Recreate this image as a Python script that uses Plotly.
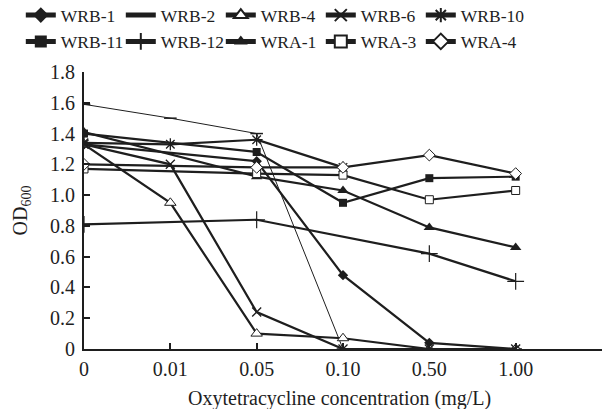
import plotly.graph_objects as go

categories = ["0", "0.01", "0.05", "0.10", "0.50", "1.00"]
y_ticks = [0, 0.2, 0.4, 0.6, 0.8, 1.0, 1.2, 1.4, 1.6, 1.8]
y_tick_labels = ["0", "0.2", "0.4", "0.6", "0.8", "1.0", "1.2", "1.4", "1.6", "1.8"]
x_title = "Oxytetracycline concentration (mg/L)"
y_title = "OD<sub>600</sub>"

wrb_1 = [1.33, None, 1.22, 0.48, 0.04, 0.00]
wrb_2 = [1.59, 1.50, 1.40, 0.00, 0.00, 0.00]
wrb_4 = [1.33, 0.95, 0.10, 0.07, 0.00, 0.00]
wrb_6 = [1.33, 1.20, 0.24, 0.00, 0.00, 0.00]
wrb_10 = [1.34, 1.33, 1.36, 1.18, None, None]
wrb_11 = [1.40, None, 1.28, 0.95, 1.11, 1.12]
wrb_12 = [0.81, None, 0.84, None, 0.62, 0.44]
wra_1 = [1.41, None, 1.12, 1.03, 0.79, 0.66]
wra_3 = [1.17, None, 1.14, 1.13, 0.97, 1.03]
wra_4 = [1.20, None, 1.18, 1.18, 1.26, 1.14]

INK = "#1e1e1e"
series = [
    ("WRB-1", wrb_1, dict(symbol="diamond", size=8, color=INK), 2.2, "legend", None),
    ("WRB-2", wrb_2, dict(symbol="line-ew", size=9, color=INK, line=dict(color=INK, width=1.5)), 1.0, "legend", None),
    ("WRB-4", wrb_4, dict(symbol="triangle-up", size=10, color="white", line=dict(color=INK, width=1)), 2.2, "legend", None),
    ("WRB-6", wrb_6, dict(symbol="x-thin", size=9, color=INK, line=dict(color=INK, width=1.3)), 2.2, "legend", None),
    ("WRB-10", wrb_10, dict(symbol="asterisk", size=10, color=INK, line=dict(color=INK, width=1.3)), 2.2, "legend", 75),
    ("WRB-11", wrb_11, dict(symbol="square", size=8, color=INK), 2.2, "legend2", None),
    ("WRB-12", wrb_12, dict(symbol="cross-thin", size=12, color=INK, line=dict(color=INK, width=1.2)), 2.2, "legend2", None),
    ("WRA-1", wra_1, dict(symbol="triangle-up", size=10, color=INK), 2.2, "legend2", None),
    ("WRA-3", wra_3, dict(symbol="square", size=8, color="white", line=dict(color=INK, width=1)), 2.2, "legend2", None),
    ("WRA-4", wra_4, dict(symbol="diamond", size=9, color="white", line=dict(color=INK, width=1)), 2.2, "legend2", 75),
]

xpos = list(range(len(categories)))
fig = go.Figure()
for name, vals, marker, lw, lg, lwid in series:
    tr = go.Scatter(
        x=xpos, y=vals, name=name, mode="lines+markers",
        line=dict(color=INK, width=lw), marker=marker, connectgaps=True,
        legend=lg,
    )
    if lwid:
        tr.legendwidth = lwid
    fig.add_trace(tr)

FONT = "Liberation Serif, Times New Roman, serif"
FS = 20
legend_common = dict(
    orientation="h", xanchor="left", yanchor="top",
    xref="paper", yref="paper",
    entrywidth=55, entrywidthmode="pixels",
    font=dict(family=FONT, size=17.5, color=INK),
    itemsizing="constant", tracegroupgap=0, bgcolor="rgba(0,0,0,0)",
)
fig.update_layout(
    width=604, height=409,
    margin=dict(l=84, r=2, t=72, b=60, autoexpand=False),
    paper_bgcolor="white", plot_bgcolor="white",
    font=dict(family=FONT, size=FS, color=INK),
    showlegend=True,
    legend=dict(x=-0.122, y=1.27, **legend_common),
    legend2=dict(x=-0.122, y=1.175, **legend_common),
    xaxis=dict(
        range=[0, 6], tickvals=xpos, ticktext=categories,
        showline=True, linecolor=INK, linewidth=2,
        ticks="inside", ticklen=6, tickwidth=1.5, tickcolor=INK,
        ticklabelstandoff=1,
        showgrid=False, zeroline=False, automargin=False,
        tickfont=dict(family=FONT, size=FS, color=INK),
    ),
    yaxis=dict(
        range=[0, 1.8], tickvals=y_ticks, ticktext=y_tick_labels,
        showline=True, linecolor=INK, linewidth=2,
        ticks="inside", ticklen=6, tickwidth=1.5, tickcolor=INK,
        ticklabelstandoff=3,
        showgrid=False, zeroline=False, automargin=False,
        title=dict(text=y_title, standoff=17, font=dict(family=FONT, size=FS, color=INK)),
        tickfont=dict(family=FONT, size=FS, color=INK),
    ),
)
fig.add_annotation(
    text=x_title, xref="paper", yref="paper", x=0.494, y=-0.177,
    xanchor="center", yanchor="middle", showarrow=False,
    font=dict(family=FONT, size=FS, color=INK),
)

fig.write_html(
    "out.html",
    config={"displayModeBar": False},
    post_script="document.body.style.margin='0';document.body.style.overflow='hidden';",
)
